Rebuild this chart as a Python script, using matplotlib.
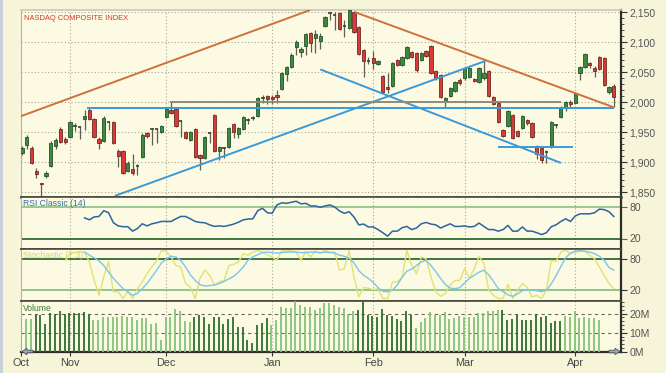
import numpy as np
import matplotlib.pyplot as plt
from matplotlib.patches import Polygon, Rectangle
from matplotlib.ticker import FuncFormatter, MultipleLocator, FixedLocator

plt.rcParams['font.family'] = ['Liberation Sans', 'DejaVu Sans']

# daily candles, NASDAQ composite, late Oct 2003 .. mid Apr 2004
opens = [1915.5, 1928.8, 1923.8, 1885.5, 1865, 1877.2, 1893.8, 1927.2, 1955.5, 1938.8,
         1942.2, 1961, 1958.8, 1972.2, 1987.2, 1972.2, 1938.8, 1935.5, 1967.2, 1967.2,
         1918.8, 1918.8, 1885.5, 1888.8, 1893.8, 1908.8, 1948.8, 1955.5, 1955.5, 1950.5,
         1975.5, 1987.2, 1988.8, 1968.8, 1950.5, 1937.2, 1955.5, 1912.2, 1907.2, 1948.8,
         1978.8, 1918.8, 1923.8, 1925.5, 1963.8, 1947.2, 1955.5, 1970.5, 1973.8, 1977.2,
         2007.2, 2010.5, 2008.8, 2012.2, 2022.2, 2047.2, 2058.8, 2092.2, 2083.8, 2093.8,
         2115.5, 2107.2, 2102.2, 2127.2, 2148.8, 2145.5, 2148.8, 2127.2, 2123.8, 2150.5,
         2125.5, 2087.2, 2068.8, 2073.8, 2063.8, 2043.8, 2025.5, 2027.2, 2070.5, 2062.2,
         2073.8, 2083.8, 2082.2, 2070.5, 2085.5, 2093.8, 2052.2, 2045.5, 2000.5, 2010.5,
         2018.8, 2037.2, 2040.5, 2042.2, 2038.8, 2033.8, 2040.5, 2052.2, 2008.8, 1998.8,
         1953.8, 1960.5, 1978.8, 1952.2, 1957.2, 1970.5, 1965.5, 1927.2, 1923.8, 1917.2,
         1925.5, 1962.2, 1975.5, 1990.5, 2000.5, 1998.8, 2048.8, 2058.8, 2065.5, 2057.2,
         2075.5, 2073.8, 2017.2, 2027.2]
highs = [1927.2, 1945.5, 1927.2, 1890.5, 1865, 1885.5, 1935.5, 1940.5, 1958.8, 1942.2,
         1968.8, 1965.5, 1960.5, 1987.2, 1992.2, 1973.8, 1942.2, 1977.2, 1968.8, 1968.8,
         1922.2, 1920.5, 1902.2, 1913.8, 1897.2, 1948.8, 1950.5, 1957.2, 1957.2, 1962.2,
         1990.5, 2000.5, 1990.5, 1970.5, 1952.2, 1952.2, 1957.2, 1913.8, 1943.8, 1950.5,
         1980.5, 1927.2, 1925.5, 1958.8, 1965.5, 1958.8, 1977.2, 1973.8, 1977.2, 2008.8,
         2012.2, 2012.2, 2012.2, 2020.5, 2050.5, 2060.5, 2082.2, 2103.8, 2092.2, 2115.5,
         2117.2, 2120.5, 2115.5, 2143.8, 2150.5, 2150.5, 2150.5, 2137.2, 2153.8, 2152.2,
         2127.2, 2088.8, 2075.5, 2085.5, 2070.5, 2045.5, 2048.8, 2067.2, 2072.2, 2077.2,
         2093.8, 2085.5, 2083.8, 2083.8, 2087.2, 2095.5, 2053.8, 2047.2, 2008.8, 2025.5,
         2035.5, 2040.5, 2058.8, 2058.8, 2040.5, 2058.8, 2070.5, 2053.8, 2010.5, 2000.5,
         1955.5, 1987.2, 1980.5, 1953.8, 1978.8, 1972.2, 1967.2, 1928.8, 1925.5, 1920.5,
         1968.8, 1963.8, 1993.8, 2002.2, 2003.8, 2017.2, 2060.5, 2082.2, 2067.2, 2060.5,
         2077.2, 2075.5, 2027.2, 2030.5]
lows = [1912.2, 1922.2, 1897.2, 1873.8, 1838, 1873.8, 1892.2, 1922.2, 1932.2, 1930.5,
        1940.5, 1952.2, 1938.8, 1953.8, 1970.5, 1940.5, 1922.2, 1933.8, 1953.8, 1930.5,
        1892.2, 1880.5, 1883.8, 1878.8, 1878.8, 1907.2, 1940.5, 1928.8, 1932.2, 1948.8,
        1973.8, 1980.5, 1958.8, 1942.2, 1938.8, 1935.5, 1907.2, 1887.2, 1905.5, 1932.2,
        1917.2, 1903.8, 1907.2, 1923.8, 1940.5, 1940.5, 1953.8, 1963.8, 1970.5, 1975.5,
        1998.8, 1997.2, 1997.2, 1998.8, 2020.5, 2035.5, 2057.2, 2078.8, 2075.5, 2078.8,
        2083.8, 2082.2, 2088.8, 2125.5, 2137.2, 2120.5, 2120.5, 2108.8, 2122.2, 2115.5,
        2078.8, 2042.2, 2063.8, 2055.5, 2062.2, 2015.5, 2015.5, 2025.5, 2060.5, 2060.5,
        2072.2, 2073.8, 2050.5, 2068.8, 2075.5, 2047.2, 2037.2, 2007.2, 1992.2, 2008.8,
        2017.2, 2028.8, 2037.2, 2040.5, 2033.8, 2032.2, 2037.2, 2008.8, 1995.5, 1965.5,
        1942.2, 1958.8, 1938.8, 1942.2, 1955.5, 1962.2, 1940.5, 1905.5, 1898.8, 1898.8,
        1923.8, 1957.2, 1973.8, 1985.5, 1992.2, 1997.2, 2037.2, 2057.2, 2057.2, 2042.2,
        2053.8, 2027.2, 2013.8, 1992.2]
closes = [1923.8, 1942.2, 1898.8, 1880.5, 1864, 1882.2, 1932.2, 1937.2, 1933.8, 1933.8,
          1967.2, 1960.5, 1959.5, 1977.2, 1972.2, 1942.2, 1932.2, 1973.8, 1967.8, 1932.2,
          1910.5, 1882.2, 1898.8, 1882.2, 1894.5, 1945.5, 1943.8, 1956, 1956, 1960.5,
          1988.8, 1982.2, 1960.5, 1969.5, 1940.5, 1950.5, 1908.8, 1907.2, 1942.2, 1949.5,
          1918.8, 1925.5, 1924.5, 1957.2, 1950.5, 1957.2, 1975.5, 1971, 1974.5, 2007.2,
          2008.8, 2005.5, 2005.5, 2008.8, 2048.8, 2058.8, 2078.8, 2100.5, 2088.8, 2113.8,
          2098.8, 2113.8, 2110.5, 2142.2, 2148.2, 2145, 2122.2, 2127.8, 2153.8, 2117.2,
          2080.5, 2068.8, 2068.2, 2065.5, 2068.8, 2017.2, 2022.2, 2065.5, 2062.2, 2075.5,
          2092.2, 2075.5, 2053.8, 2082.2, 2077.2, 2048.8, 2040.5, 2008.8, 2007.2, 2023.8,
          2033.8, 2032.2, 2057.2, 2057.2, 2035.5, 2057.2, 2048.8, 2010.5, 1997.2, 1967.2,
          1943.8, 1985.5, 1940.5, 1943.8, 1977.2, 1965.5, 1942.2, 1913.8, 1903.8, 1916.5,
          1967.2, 1962.8, 1992.2, 2000.5, 1997.2, 2015.5, 2058.8, 2080.5, 2062.2, 2052.2,
          2055.5, 2028.8, 2025.5, 2008.8]

# RSI(14), first value on bar 13
rsi_start = 13
rsi = [59.4, 55.6, 61, 62, 73, 69, 50, 44, 42.5, 42.5,
       34, 39, 48, 44, 48, 50, 52.5, 52.5, 52.5, 57.5,
       62, 62, 57.5, 52.5, 50.6, 50, 46, 43, 44, 43,
       45, 47.5, 51, 55.6, 57, 57.5, 73, 77.5, 69, 68,
       84, 88, 87, 89, 91, 86, 87, 82, 82, 79.5,
       82, 84, 80, 72.5, 68, 71, 61, 46, 47.5, 42,
       42, 37, 31, 24.5, 34, 34, 40.6, 43, 37, 40,
       48, 50.6, 47.5, 46, 40, 44, 48, 43, 43, 44,
       42, 43, 49.4, 43, 37, 37, 34, 37, 45, 34,
       34, 42, 34, 34, 31, 27.5, 31, 42.5, 46, 52.5,
       57.5, 52.5, 63, 67, 67, 67, 69, 76, 75, 71,
       62]

# Stochastic (7,3): %K from bar 9, %D from bar 13
k_start = 9
stoch_k = [78, 91.6, 93, 95, 94, 75, 40, 10, 46, 75,
           17, 17, 4, 17, 4, 23, 36, 52, 66, 77,
           97, 95.5, 84.5, 68, 65, 33, 26, 4, 43, 59,
           49, 30, 36, 39, 68, 70, 75, 91, 88, 94,
           97, 94, 89, 84.5, 78, 97, 96, 97, 94, 78,
           95.5, 84.5, 96, 91, 97, 94, 94, 59, 62, 97,
           46, 7, 25, 24, 21, 23, 4, 4, 36, 36,
           44.5, 97, 68, 52, 84.5, 81, 46, 17, 8, 13.6,
           30, 39, 39, 62, 43, 62, 86, 72, 20, 10,
           4, 4, 31.6, 4, 20, 33, 26, 7, 10, 4,
           20, 78, 76, 94, 97, 92, 94, 95.5, 95.5, 88,
           81, 65, 49, 33, 23]
d_start = 13
stoch_d = [94, 88, 83, 77, 68, 55, 43, 33, 23, 17,
           10, 13.6, 23, 33, 46, 59, 73, 81, 86, 84.5,
           78, 65, 50, 39, 31, 28, 29, 30, 33, 37,
           42, 47, 55, 65, 78, 85, 89, 93, 94, 93,
           92, 93, 94, 94, 94, 93, 93, 94, 94, 93,
           94, 93, 92, 88, 86, 82, 73, 58, 49, 43,
           35, 25, 18, 17, 20, 30, 45, 57, 61, 68,
           75, 78, 68, 56, 43, 31, 24, 23, 25, 34,
           43, 49, 55, 59, 50, 37, 23, 17, 11, 8,
           13, 19, 21, 20, 19, 17, 20, 32, 48, 66,
           83, 92, 95.5, 97, 95.5, 94, 91, 86, 78, 64,
           59]

# volume in millions of shares
volume = [17, 17.1, 17.1, 19.2, 19.2, 14.8, 20.4, 19.7, 21.5, 19.7,
          20.4, 20.4, 20.1, 20.9, 19.7, 16.9, 16.6, 18, 18.3, 18.3,
          18.3, 18.9, 18.3, 18, 16.6, 17.8, 17.8, 14.8, 15, 6.4,
          18.3, 18, 22.4, 21.5, 16.2, 15.7, 18, 19.2, 18.3, 14.5,
          18, 18, 14.5, 17.1, 18.3, 13.1, 13.1, 6.1, 4.6, 13.9,
          15.2, 17.5, 14, 16.6, 23.6, 22.8, 22.8, 26.8, 24.6, 23.6,
          23.6, 21.9, 22.8, 25.7, 25.3, 24.5, 23.6, 22.8, 19.7, 21.5,
          22, 26, 19.2, 18.6, 18.3, 22.3, 19.2, 18.6, 17.1, 16.2,
          21.5, 19.2, 12.6, 15.7, 17.8, 20.6, 19.2, 19.2, 20.6, 17,
          17.5, 18.6, 18.3, 18.3, 18, 20.1, 20.4, 21.2, 21.4, 21.8,
          22.1, 16.8, 17.3, 19.2, 16.6, 16.6, 16.6, 19.7, 18.3, 18.6,
          15.1, 16.2, 16, 18.6, 18.3, 21.5, 17.5, 18, 17.8, 17.5,
          16.8]
# bar shade: d = dark green, l = light green
vol_shade = ("lll" + "d" * 12 + "l" * 14 + "l" * 7 + "d" * 16 + "l" * 18
             + "d" * 12 + "l" * 18 + "d" * 13 + "l" * 8)

month_labels = ['Oct', 'Nov', 'Dec', 'Jan', 'Feb', 'Mar', 'Apr']
month_pos = [-0.2, 10, 30, 52, 73, 92, 115]

# drawn trend lines: (bar0, price0, bar1, price1, kind)
trend_lines = [
    (-0.2, 1977, 59.9, 2154, 'res'),
    (69.2, 2150.5, 122.9, 1992, 'res'),
    (19.3, 1844, 96.3, 2069, 'sup'),
    (13.5, 1990.5, 123.1, 1990.5, 'sup'),
    (62, 2055, 112, 1899, 'sup'),
    (99, 1925.5, 114.5, 1925.5, 'sup'),
    (30.8, 2001, 112, 2001, 'flat'),
]
line_colors = {'res': '#d0703e', 'sup': '#3a9ad8', 'flat': '#8c8c7a'}

W, H = 666, 373
FIG_BG = '#f7f5d9'
BG = '#fcfae2'
DARK = '#48483e'

fig = plt.figure(figsize=(W / 100, H / 100), dpi=100, facecolor=FIG_BG)


def panel(top, bottom):
    a = fig.add_axes([21 / W, 1 - bottom / H, 600 / W, (bottom - top) / H], facecolor=BG)
    a.set_xlim(-0.2, 124.5)
    for s in ('top', 'bottom'):
        a.spines[s].set_color(DARK)
        a.spines[s].set_linewidth(1.2)
    a.spines['left'].set_color('#b4b4a0')
    a.spines['left'].set_linewidth(0.8)
    a.spines['right'].set_color('#2e2e28')
    a.spines['right'].set_linewidth(1.6)
    a.yaxis.tick_right()
    a.tick_params(axis='y', direction='out', length=4, width=0.8, color='#333333',
                  labelsize=7.5, labelcolor='#555555', pad=2)
    a.tick_params(axis='y', which='minor', direction='out', length=2, width=0.6, color='#333333')
    a.tick_params(axis='x', which='both', bottom=False, labelbottom=False)
    for m in month_pos[1:]:
        a.axvline(m, color='#a8a894', lw=0.8, ls=(0, (1, 2)), zorder=0)
    return a


ax = panel(10, 196.5)
ax_rsi = panel(196.5, 249)
ax_sto = panel(249, 300.5)
ax_vol = panel(300.5, 352)

# ---- price panel
x = np.arange(len(closes))
o, h, l, c = (np.array(v) for v in (opens, highs, lows, closes))
up = c > o
doji = np.abs(c - o) < 1
ax.vlines(x, l, h, color='#5e5e52', lw=0.9, zorder=3)
bot = np.minimum(o, c)
hgt = np.abs(c - o)
g = up & ~doji
r = ~up & ~doji
ax.bar(x[g], hgt[g], bottom=bot[g], width=0.68, color='#3d8a3e', edgecolor='#25522a', lw=0.6, zorder=4)
ax.bar(x[r], hgt[r], bottom=bot[r], width=0.68, color='#d83a36', edgecolor='#6e2a22', lw=0.6, zorder=4)
ax.hlines(o[doji], x[doji] - 0.36, x[doji] + 0.36, color='#3e3e36', lw=1.2, zorder=4)

for x0, y0, x1, y1, kind in trend_lines:
    ax.plot([x0, x1], [y0, y1], color=line_colors[kind], lw=1.4, zorder=5,
            solid_capstyle='butt')

ax.set_ylim(1843, 2154)
ax.yaxis.set_major_locator(MultipleLocator(50))
ax.yaxis.set_minor_locator(MultipleLocator(10))
ax.yaxis.set_major_formatter(FuncFormatter(lambda v, p: f'{v:,.0f}'))
for lev in range(1850, 2151, 50):
    ax.axhline(lev, color='#a8a894', lw=0.8, ls=(0, (1, 2)), zorder=0)
ax.spines['top'].set_color('#c8c8b4')
ax.spines['bottom'].set_linewidth(1.8)
ax.text(0.005, 0.975, 'NASDAQ COMPOSITE INDEX', transform=ax.transAxes,
        fontsize=5.4, color='#cc3a2c', va='top', ha='left')

# ---- RSI panel
xr = np.arange(rsi_start, rsi_start + len(rsi))
ax_rsi.plot(xr, rsi, color='#2c64a0', lw=1.1, zorder=3)
ax_rsi.axhline(80, color='#8fc48c', lw=1.3, zorder=1)
ax_rsi.axhline(20, color='#2e6a30', lw=1.3, zorder=1)
ax_rsi.set_ylim(0, 100)
ax_rsi.yaxis.set_major_locator(FixedLocator([20, 80]))
ax_rsi.tick_params(axis='y', color='#d03030')
ax_rsi.text(0.004, 0.96, 'RSI Classic (14)', transform=ax_rsi.transAxes,
            fontsize=6.2, color='#3a6ea8', va='top', ha='left')

# ---- stochastic panel
ax_sto.plot(np.arange(k_start, k_start + len(stoch_k)), stoch_k, color='#e2e272', lw=1.0, zorder=3)
ax_sto.plot(np.arange(d_start, d_start + len(stoch_d)), stoch_d, color='#7ec6e6', lw=1.0, zorder=4)
ax_sto.axhline(80, color='#2e6a30', lw=1.3, zorder=1)
ax_sto.axhline(20, color='#86c282', lw=1.3, zorder=1)
ax_sto.set_ylim(0, 100)
ax_sto.yaxis.set_major_locator(FixedLocator([20, 80]))
ax_sto.text(0.004, 0.96, 'Stochastic (7,3)', transform=ax_sto.transAxes,
            fontsize=6.2, color='#d6d660', va='top', ha='left')

# ---- volume panel
xv = np.arange(len(volume))
shade = ['#2f6e2f' if s == 'd' else '#86c27a' for s in vol_shade]
ax_vol.vlines(xv - 0.15, 0, volume, colors=shade, lw=1.3, zorder=3)
for lev in (10, 20):
    ax_vol.axhline(lev, color='#6a6a60', lw=0.8, ls=(0, (3, 3)), zorder=1)
ax_vol.set_ylim(0, 26.8)
ax_vol.yaxis.set_major_locator(FixedLocator([0, 10, 20]))
ax_vol.yaxis.set_minor_locator(MultipleLocator(2))
ax_vol.yaxis.set_major_formatter(FuncFormatter(lambda v, p: f'{v:.0f}M'))
ax_vol.spines['bottom'].set_linewidth(1.6)
ax_vol.spines['bottom'].set_color('#2e2e28')
ax_vol.tick_params(axis='x', bottom=True, labelbottom=True, direction='out', length=3,
                   color='#333333', labelsize=7.8, labelcolor='#444444', pad=1.5)
ax_vol.set_xticks(month_pos)
ax_vol.set_xticklabels(month_labels)
ax_vol.text(0.004, 0.94, 'Volume', transform=ax_vol.transAxes,
            fontsize=6.2, color='#3c7c34', va='top', ha='left')


# scroll arrows at the ends of the time axis
def arrow(pts):
    pts = [(px / W, 1 - py / H) for px, py in pts]
    fig.patches.append(Polygon(pts, closed=True, transform=fig.transFigure, facecolor='#9aa6ba',
                               edgecolor='#4a5060', lw=0.6, zorder=10))


arrow([(22, 351.5), (27, 348.3), (27, 350.2), (33, 350.2), (33, 352.8), (27, 352.8), (27, 354.7)])
arrow([(620, 351.5), (615, 348.3), (615, 350.2), (609, 350.2), (609, 352.8), (615, 352.8), (615, 354.7)])
fig.patches.append(Rectangle((0, 0), 2.5 / W, 1, transform=fig.transFigure,
                             facecolor='#c9d2dc', edgecolor='none'))

fig.savefig('out.png', dpi=100, facecolor=FIG_BG)
